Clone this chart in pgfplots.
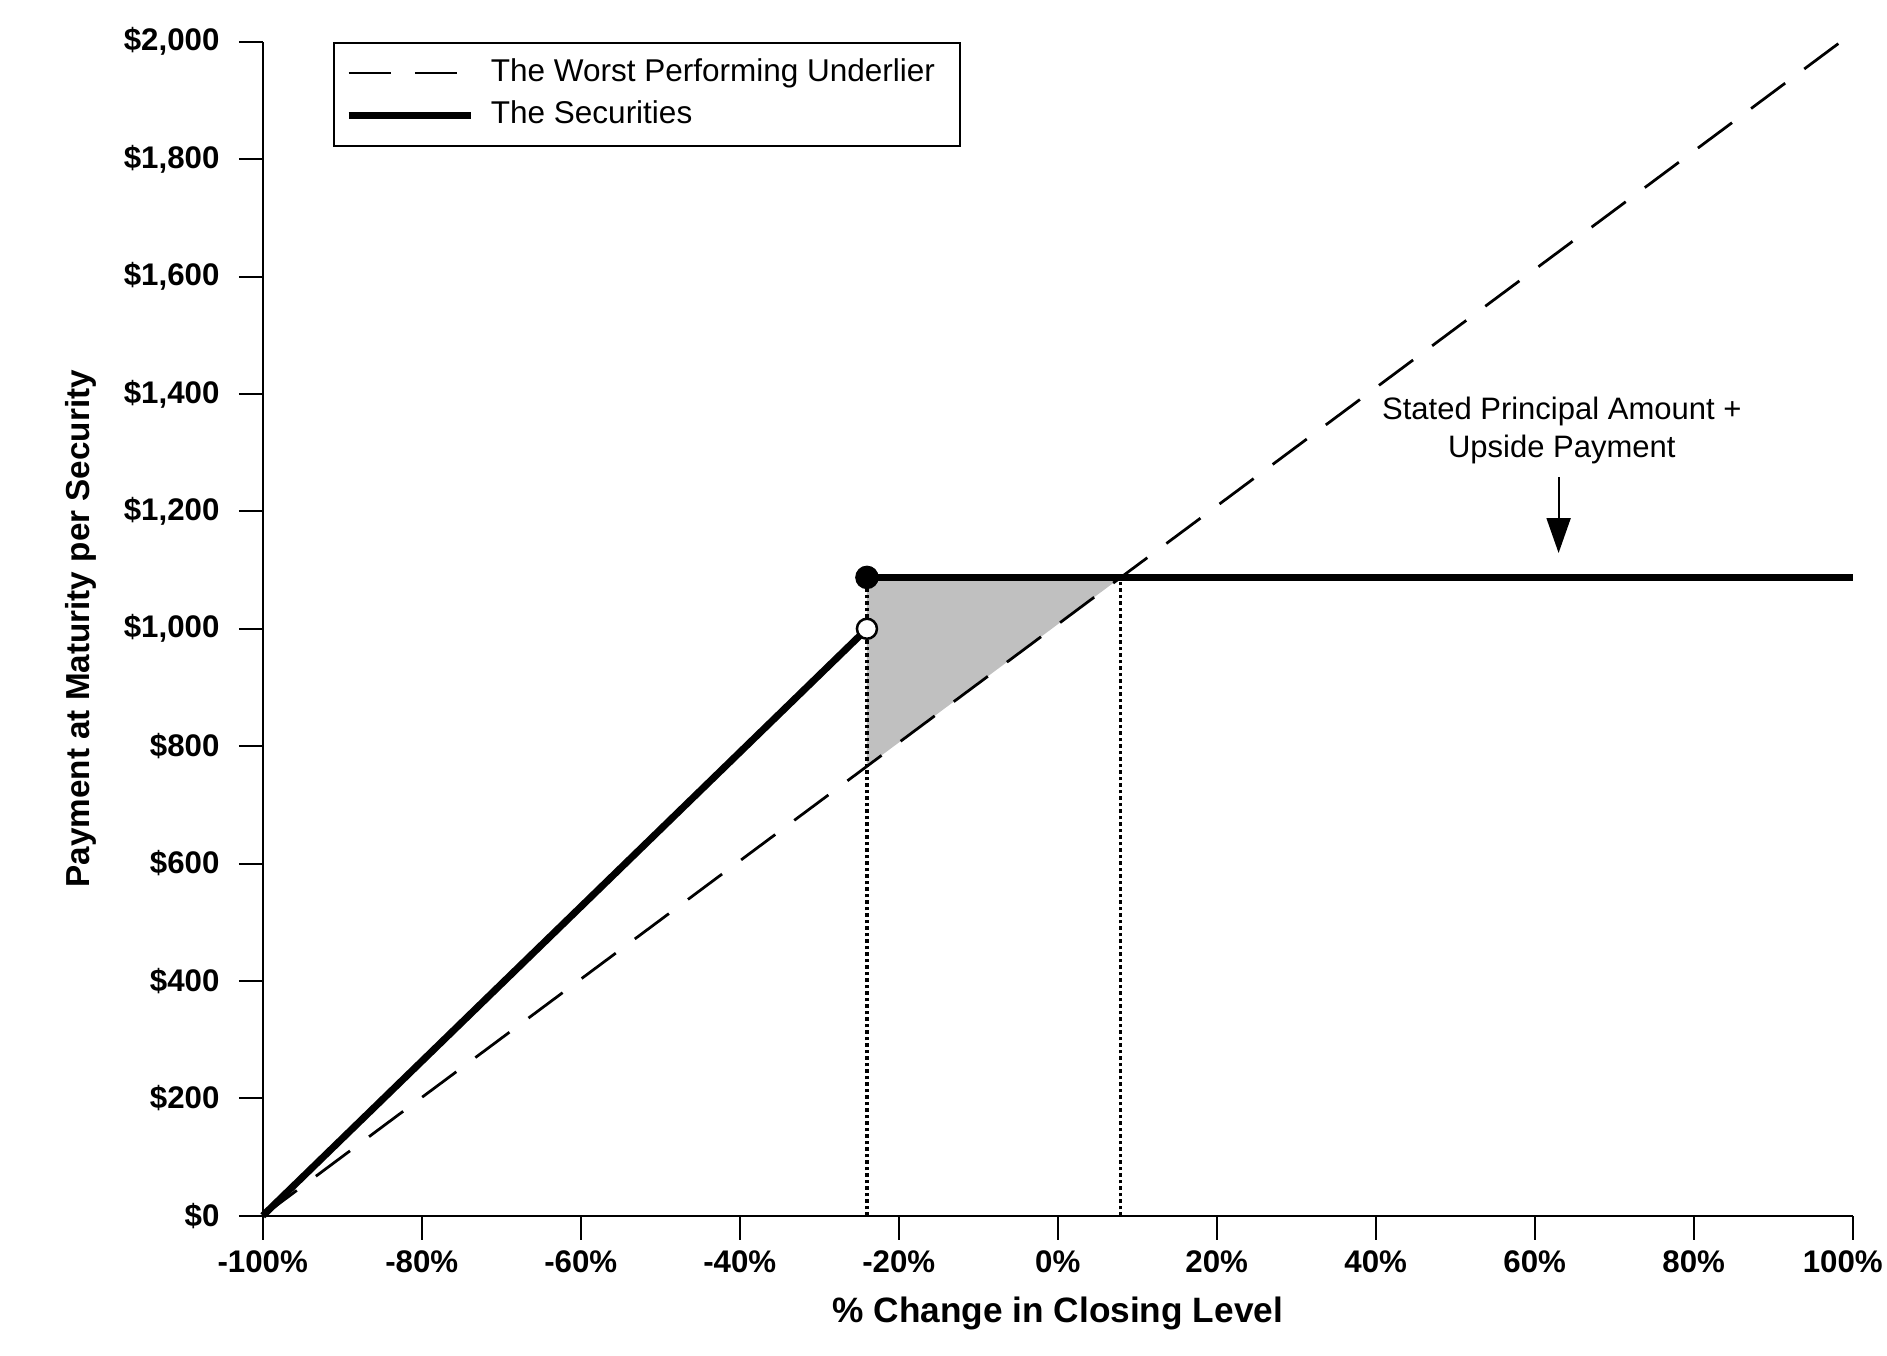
\documentclass[border=0pt]{standalone}
\usepackage{fontspec}
\setmainfont{Liberation Sans}
\usepackage{pgfplots}
\pgfplotsset{compat=1.18}
\usetikzlibrary{arrows.meta}
\definecolor{shade}{RGB}{192,192,192}
\begin{document}
\begin{tikzpicture}
\path[use as bounding box] (-105.1pt,-55.7pt) rectangle (649.7pt,486.3pt);
\begin{axis}[
  scale only axis,
  width=636pt, height=469.6pt,
  xmin=-100, xmax=100, ymin=0, ymax=2000,
  axis x line=bottom, axis y line=left,
  axis line style={-, line width=0.8pt},
  tick align=outside,
  major tick length=9.5pt,
  tick style={line width=0.8pt, black},
  xtick={-100,-80,-60,-40,-20,0,20,40,60,80,100},
  xticklabels={-100\%,-80\%,-60\%,-40\%,-20\%,0\%,20\%,40\%,60\%,80\%,\hspace*{-8pt}100\%},
  ytick={0,200,400,600,800,1000,1200,1400,1600,1800,2000},
  yticklabels={\$0,\$200,\$400,\$600,\$800,{\$1,000},{\$1,200},{\$1,400},{\$1,600},{\$1,800},{\$2,000}},
  xticklabel style={font=\bfseries\fontsize{12.5}{14}\selectfont, yshift=-1pt},
  yticklabel style={font=\bfseries\fontsize{12.5}{14}\selectfont, xshift=-4.3pt},
  xlabel={\% Change in Closing Level},
  ylabel={Payment at Maturity per Security},
  every axis x label/.style={at={(axis description cs:0.5,0)}, yshift=-39.1pt, anchor=center, font=\bfseries\fontsize{14.1}{16}\selectfont},
  every axis y label/.style={at={(axis description cs:0,0.5)}, xshift=-72.7pt, anchor=center, rotate=90, font=\bfseries\fontsize{13.3}{16}\selectfont},
  clip=false,
  legend style={at={(axis description cs:0.044,1)}, anchor=north west, draw=black, line width=0.8pt,
    font=\fontsize{12.6}{15}\selectfont, inner xsep=4.6pt, inner ysep=3.5pt,
    nodes={text height=9.2pt, text depth=2.7pt, inner ysep=2.6pt, inner xsep=0pt},
    column sep=6.5pt, cells={anchor=west}},
  legend image code/.code={\draw[#1] (0pt,0pt) -- (49pt,0pt);},
]
% shaded triangle
\addplot[fill=shade, draw=none, forget plot] coordinates {(-24,765.8) (-24,1087.5) (7.93,1087.5)};
% dotted verticals
\addplot[black, line width=1.3pt, dash pattern=on 1.4pt off 1.2pt, forget plot] coordinates {(-24,0) (-24,1087.5)};
\addplot[black, line width=1.3pt, dash pattern=on 1.4pt off 1.2pt, forget plot] coordinates {(7.93,0) (7.93,1087.5)};
% worst performing underlier
\addplot[black, line width=1.1pt, dash pattern=on 17pt off 9.5pt] coordinates {(-100,0) (98.5,2000)};
% securities
\addplot[black, line width=2.8pt] coordinates {(-100,0) (-24,1000)};
\addplot[black, line width=2.8pt, forget plot] coordinates {(-24,1087.5) (100,1087.5)};
% markers
\addplot[only marks, mark=*, mark size=4.5pt, mark options={fill=black, draw=black}, forget plot] coordinates {(-24,1087.5)};
\addplot[only marks, mark=*, mark size=4.0pt, mark options={fill=white, draw=black, line width=1pt}, forget plot] coordinates {(-24,1000)};
\legend{The Worst Performing Underlier\kern5.3pt, The Securities}
% annotation
\node[align=center, font=\fontsize{12.4}{15.2}\selectfont] at (axis cs:63.4,1337) {Stated Principal Amount +\\Upside Payment};
\draw[line width=0.8pt, -{Triangle[width=9.6pt,length=14pt]}] (axis cs:63,1258) -- (axis cs:63,1129);
\end{axis}
\end{tikzpicture}
\end{document}
